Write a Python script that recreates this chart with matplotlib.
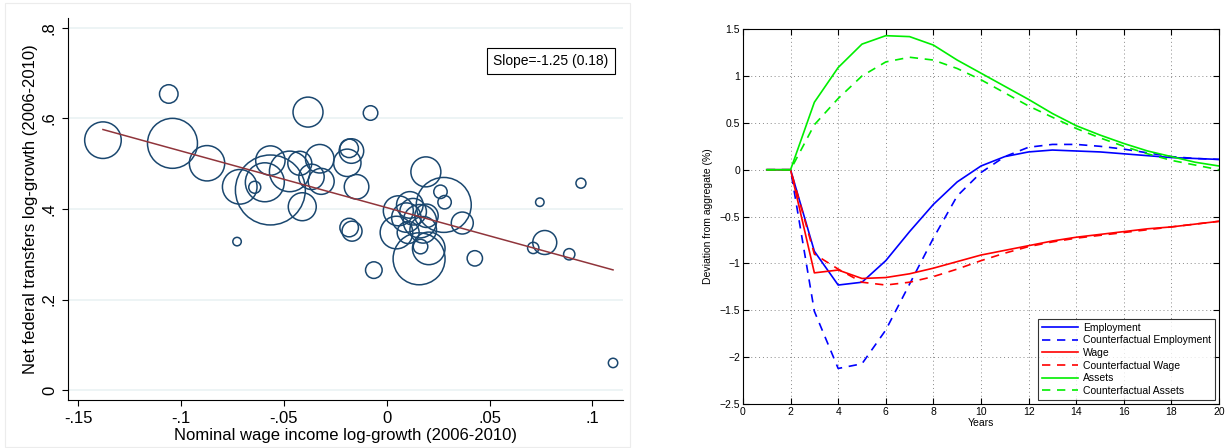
import numpy as np
import matplotlib
matplotlib.use('Agg')
from matplotlib import pyplot as plt
from matplotlib.patches import Rectangle

plt.rcParams['font.family'] = ['Liberation Sans', 'DejaVu Sans']

# left panel: one bubble per state
wage_growth = [-0.138, -0.106, -0.1042, -0.0874, -0.0728, -0.0715, -0.0642, -0.0593,
               -0.0566, -0.0566, -0.0472, -0.0423, -0.0383, -0.0366, -0.0326, -0.0319,
               -0.0411, -0.0192, -0.0183, -0.0172, -0.0147, -0.0183, -0.0169, -0.0079,
               -0.0063, 0.0056, 0.0112, 0.0095, 0.0128, 0.0161, 0.0177, 0.0104,
               0.0193, 0.0047, 0.019, 0.0277, 0.0261, 0.0281, 0.0367, 0.0428,
               0.0157, 0.0204, 0.0164, 0.0744, 0.0712, 0.0768, 0.0887, 0.0944, 0.110]
transfer_growth = [0.552, 0.654, 0.545, 0.501, 0.328, 0.449, 0.448, 0.459,
                   0.507, 0.442, 0.483, 0.501, 0.614, 0.471, 0.511, 0.461,
                   0.405, 0.502, 0.534, 0.528, 0.449, 0.359, 0.351, 0.612,
                   0.265, 0.396, 0.409, 0.381, 0.394, 0.373, 0.354, 0.348,
                   0.385, 0.348, 0.482, 0.409, 0.438, 0.415, 0.369, 0.291,
                   0.290, 0.313, 0.317, 0.415, 0.314, 0.326, 0.300, 0.457, 0.060]
weight = [335, 86, 625, 313, 18, 300, 36, 380,
          216, 1225, 412, 144, 225, 161, 204, 169,
          196, 188, 86, 151, 151, 86, 100, 53,
          69, 225, 177, 216, 177, 279, 177, 121,
          137, 266, 225, 756, 45, 45, 121, 59,
          676, 266, 53, 18, 32, 144, 32, 25, 22]
fit_intercept = 0.403
fit_slope = -1.25
slope_text = 'Slope=-1.25 (0.18)'

# right panel: impulse responses
years = list(range(1, 21))
employment = [0, 0, -0.87, -1.23, -1.2, -0.97, -0.66, -0.37, -0.13, 0.04,
              0.14, 0.19, 0.21, 0.2, 0.19, 0.17, 0.15, 0.13, 0.12, 0.11]
cf_employment = [0, 0, -1.51, -2.12, -2.07, -1.71, -1.22, -0.73, -0.28, -0.03,
                 0.14, 0.24, 0.27, 0.27, 0.25, 0.22, 0.18, 0.14, 0.12, 0.11]
wage = [0, 0, -1.1, -1.07, -1.16, -1.15, -1.11, -1.05, -0.98, -0.91,
        -0.86, -0.81, -0.76, -0.72, -0.69, -0.66, -0.63, -0.61, -0.58, -0.55]
cf_wage = [0, 0, -0.9, -1.06, -1.2, -1.23, -1.2, -1.14, -1.06, -0.97,
           -0.89, -0.82, -0.77, -0.73, -0.7, -0.67, -0.64, -0.61, -0.58, -0.55]
assets = [0, 0, 0.72, 1.09, 1.34, 1.43, 1.42, 1.33, 1.17, 1.03,
          0.89, 0.75, 0.6, 0.47, 0.37, 0.28, 0.2, 0.14, 0.08, 0.04]
cf_assets = [0, 0, 0.48, 0.76, 1.0, 1.15, 1.2, 1.17, 1.08, 0.96,
             0.82, 0.68, 0.56, 0.44, 0.34, 0.25, 0.17, 0.1, 0.05, 0.0]

fig = plt.figure(figsize=(12.25, 4.48), dpi=100)

# ---- left panel (Stata look)
fig.patches.append(Rectangle((0.004, 0.002), 0.51, 0.992, transform=fig.transFigure,
                             fill=False, edgecolor='#ececec', linewidth=0.8))
ax1 = fig.add_axes([0.0555, 0.107, 0.453, 0.853])
w = np.array(weight, dtype=float)
ax1.scatter(wage_growth, transfer_growth, s=w * 2.07, facecolors='none',
            edgecolors='#1a476f', linewidths=1.1, zorder=3)
xl = np.array([min(wage_growth), max(wage_growth)])
ax1.plot(xl, fit_intercept + fit_slope * xl, color='#90353b', linewidth=1.1, zorder=4)
ax1.set_xlim(-0.155, 0.1148)
ax1.set_ylim(-0.022, 0.822)
ax1.set_xticks([-0.15, -0.1, -0.05, 0, 0.05, 0.1])
ax1.set_xticklabels(['-.15', '-.1', '-.05', '0', '.05', '.1'])
ax1.set_yticks([0, 0.2, 0.4, 0.6, 0.8])
ax1.set_yticklabels(['0', '.2', '.4', '.6', '.8'], rotation=90, va='center')
ax1.grid(axis='y', color='#eaf2f3', linewidth=1.2, zorder=0)
ax1.set_axisbelow(True)
for side in ['top', 'right']:
    ax1.spines[side].set_visible(False)
ax1.tick_params(direction='out', length=4.5, labelsize=12)
ax1.set_xlabel('Nominal wage income log-growth (2006-2010)', fontsize=12, labelpad=1)
ax1.set_ylabel('Net federal transfers log-growth (2006-2010)', fontsize=12, labelpad=3)
ax1.text(0.87, 0.887, slope_text, transform=ax1.transAxes, ha='center', va='center',
         fontsize=10, bbox=dict(boxstyle='square,pad=0.45', facecolor='white',
                                edgecolor='black', linewidth=0.8))

# ---- right panel (MATLAB look)
ax2 = fig.add_axes([0.6065, 0.098, 0.3886, 0.837])
ax2.plot(years, employment, color='#0000ff', linewidth=1.2, label='Employment')
ax2.plot(years, cf_employment, color='#0000ff', linewidth=1.2, linestyle=(0, (5, 4)),
         label='Counterfactual Employment')
ax2.plot(years, wage, color='#ff0000', linewidth=1.2, label='Wage')
ax2.plot(years, cf_wage, color='#ff0000', linewidth=1.2, linestyle=(0, (5, 4)),
         label='Counterfactual Wage')
ax2.plot(years, assets, color='#00ee00', linewidth=1.2, label='Assets')
ax2.plot(years, cf_assets, color='#00ee00', linewidth=1.2, linestyle=(0, (5, 4)),
         label='Counterfactual Assets')
ax2.set_xlim(0, 20)
ax2.set_ylim(-2.5, 1.5)
ax2.set_xticks(np.arange(0, 21, 2))
ax2.set_yticks(np.arange(-2.5, 1.51, 0.5))
ax2.set_yticklabels(['\u22122.5', '\u22122', '\u22121.5', '\u22121', '\u22120.5',
                     '0', '0.5', '1', '1.5'])
ax2.grid(True, color='#888888', linestyle=(0, (1, 3)), linewidth=0.7)
ax2.tick_params(direction='in', length=4, labelsize=7.5, top=True, right=True, pad=2)
ax2.set_xlabel('Years', fontsize=7.5, labelpad=1)
ax2.set_ylabel('Deviation from aggregate (%)', fontsize=7.5, labelpad=5)
leg = ax2.legend(loc='lower right', fontsize=7.5, frameon=True, fancybox=False,
                 borderaxespad=0.4, handlelength=3.5, labelspacing=0.25,
                 borderpad=0.4, handletextpad=0.4)
leg.get_frame().set_edgecolor('black')
leg.get_frame().set_linewidth(0.8)

fig.savefig('out.png', dpi=100)
